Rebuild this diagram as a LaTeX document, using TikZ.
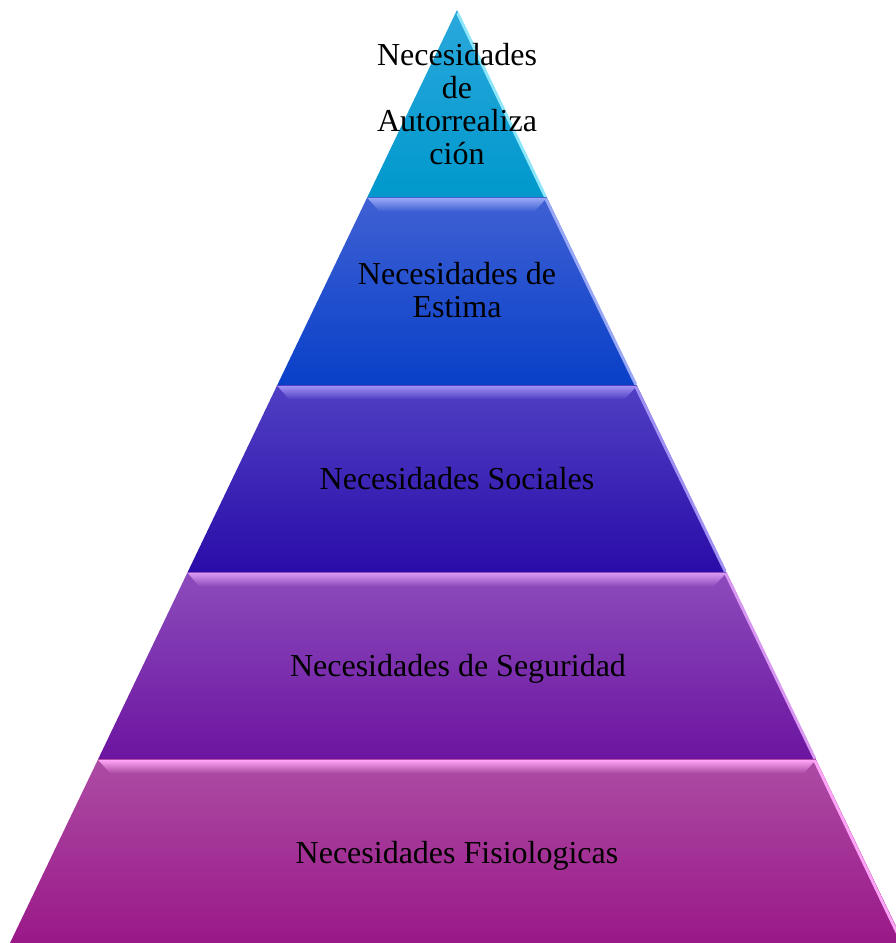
\documentclass[tikz,border=0pt]{standalone}
\usepackage{fontspec}
\setmainfont{Liberation Serif}
\definecolor{aT}{HTML}{2AA8DC}\definecolor{aB}{HTML}{0098CC}\definecolor{aH}{HTML}{8EE6FA}
\definecolor{bT}{HTML}{4060D4}\definecolor{bB}{HTML}{0840C8}\definecolor{bH}{HTML}{98A8F6}
\definecolor{cT}{HTML}{5040C4}\definecolor{cB}{HTML}{2A0CA8}\definecolor{cH}{HTML}{A090F4}
\definecolor{dT}{HTML}{8C4CBC}\definecolor{dB}{HTML}{6C14A0}\definecolor{dH}{HTML}{D898F2}
\definecolor{eT}{HTML}{AC4CA4}\definecolor{eB}{HTML}{9A1888}\definecolor{eH}{HTML}{FFA4F6}
\tikzset{
  lbl/.style={font=\fontsize{24}{24.75}\selectfont, align=center, text=black, inner sep=0pt},
  edgehl/.style={line width=2.2pt, line cap=round}
}
\begin{document}
\begin{tikzpicture}[x=0.75pt,y=-0.75pt]
\useasboundingbox (0,0) rectangle (896,943);
\begin{scope}
\clip (0,0) rectangle (896,943);
% level 1
\shade[top color=aT,bottom color=aB] (457,10) -- (546.6,197) -- (367.4,197) -- cycle;
\draw[edgehl,aH] (458,14) -- (545,196);
% level 2
\shade[top color=bT,bottom color=bB] (367.4,197) -- (546.6,197) -- (636.7,385) -- (277.3,385) -- cycle;
\shade[top color=bH,bottom color=bT] (367.4,198) -- (546.6,198) -- (535,211) -- (379,211) -- cycle;
\draw[edgehl,bH] (546,199) -- (635.5,384);
% level 3
\shade[top color=cT,bottom color=cB] (277.3,385) -- (636.7,385) -- (726.3,572) -- (187.7,572) -- cycle;
\shade[top color=cH,bottom color=cT] (277.3,386) -- (636.7,386) -- (625,399) -- (289,399) -- cycle;
\draw[edgehl,cH] (636,387) -- (725,571);
% level 4
\shade[top color=dT,bottom color=dB] (187.7,572) -- (726.3,572) -- (815.8,759) -- (98.2,759) -- cycle;
\shade[top color=dH,bottom color=dT] (187.7,573) -- (726.3,573) -- (714,586) -- (199,586) -- cycle;
\draw[edgehl,dH] (726,574) -- (814.5,758);
% level 5
\shade[top color=eT,bottom color=eB] (98.2,759) -- (815.8,759) -- (904,943) -- (10,943) -- cycle;
\shade[top color=eH,bottom color=eT] (98.2,760) -- (815.8,760) -- (804,773) -- (110,773) -- cycle;
\draw[edgehl,eH] (815,761) -- (903,945);
\end{scope}
% labels
\node[lbl] (t1) at (457,104) {Necesidades\\de\\Autorrealiza\\ción};
\node[lbl] (t2) at (457,290) {Necesidades de\\Estima};
\node[lbl] (t3) at (457,479) {Necesidades Sociales};
\node[lbl] (t4) at (458,669) {Necesidades de Seguridad};
\node[lbl] (t5) at (457,856) {Necesidades Fisiologicas};
\end{tikzpicture}
\end{document}
